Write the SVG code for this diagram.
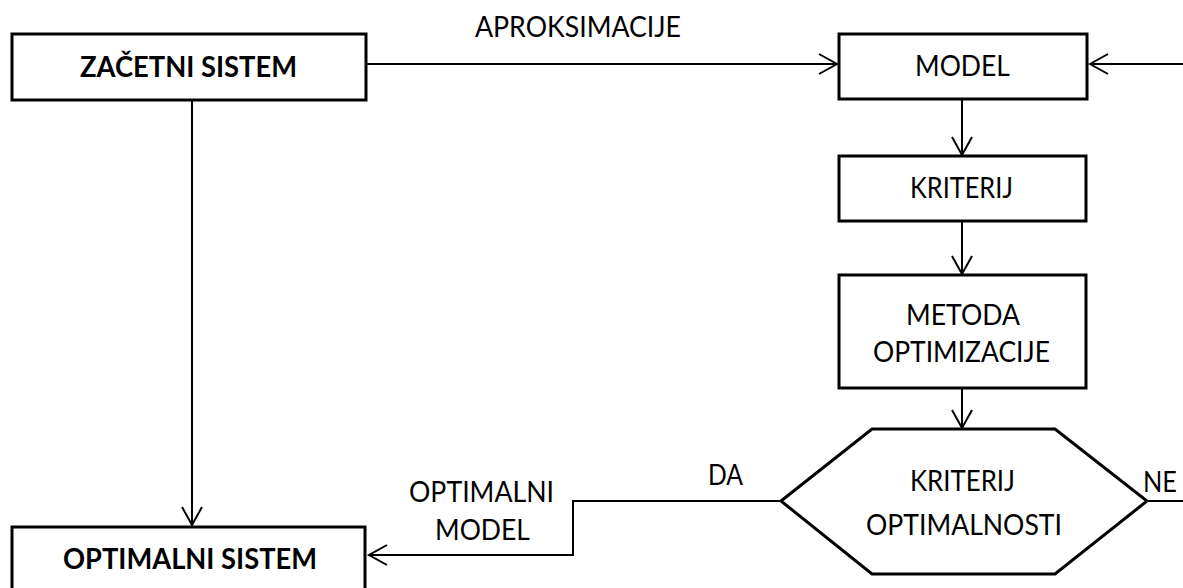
<svg xmlns="http://www.w3.org/2000/svg" width="1183" height="588" viewBox="0 0 1183 588">
  <style>
    .box { fill: #ffffff; stroke: #000000; stroke-width: 3; }
    .conn { fill: none; stroke: #000000; stroke-width: 2; }
    text { font-family: Lato, "Open Sans", "Liberation Sans", sans-serif; font-size: 28px; fill: #000000; }
    .bold { font-weight: bold; }
  </style>
  <defs>
    <marker id="arrow" markerUnits="userSpaceOnUse" markerWidth="24" markerHeight="24" viewBox="-20 -12 24 24" refX="0" refY="0" orient="auto">
      <path d="M -18 -10 L 0 0 L -18 10" fill="none" stroke="#000000" stroke-width="2"/>
    </marker>
  </defs>
  <rect width="1183" height="588" fill="#ffffff"/>

  <g id="connectors">
    <path class="conn" d="M366 64 H837" marker-end="url(#arrow)"/>
    <path class="conn" d="M1183 64 H1090" marker-end="url(#arrow)"/>
    <path class="conn" d="M962 99 V155" marker-end="url(#arrow)"/>
    <path class="conn" d="M962 221 V274" marker-end="url(#arrow)"/>
    <path class="conn" d="M962 388 V428" marker-end="url(#arrow)"/>
    <path class="conn" d="M192 100 V525" marker-end="url(#arrow)"/>
    <path class="conn" d="M781 501 H573 V555 H369" marker-end="url(#arrow)"/>
    <path class="conn" d="M1147 501 H1183"/>
    <text x="475" y="37" textLength="206" lengthAdjust="spacingAndGlyphs">APROKSIMACIJE</text>
    <text x="708" y="485" textLength="35" lengthAdjust="spacingAndGlyphs">DA</text>
    <text x="1143" y="492" textLength="34" lengthAdjust="spacingAndGlyphs">NE</text>
    <text x="409" y="502" textLength="145" lengthAdjust="spacingAndGlyphs">OPTIMALNI</text>
    <text x="435" y="540" textLength="95" lengthAdjust="spacingAndGlyphs">MODEL</text>
  </g>

  <g id="zacetni-sistem">
    <rect class="box" x="12" y="34" width="354" height="66"/>
    <text class="bold" x="80" y="77" textLength="217" lengthAdjust="spacingAndGlyphs">ZAČETNI SISTEM</text>
  </g>

  <g id="model">
    <rect class="box" x="839" y="34" width="248" height="65"/>
    <text x="915" y="76" textLength="95" lengthAdjust="spacingAndGlyphs">MODEL</text>
  </g>

  <g id="kriterij">
    <rect class="box" x="839" y="156" width="247" height="65"/>
    <text x="910" y="198" textLength="103" lengthAdjust="spacingAndGlyphs">KRITERIJ</text>
  </g>

  <g id="metoda-optimizacije">
    <rect class="box" x="839" y="275" width="247" height="113"/>
    <text x="906" y="325" textLength="114" lengthAdjust="spacingAndGlyphs">METODA</text>
    <text x="873" y="362" textLength="177" lengthAdjust="spacingAndGlyphs">OPTIMIZACIJE</text>
  </g>

  <g id="kriterij-optimalnosti">
    <polygon class="box" points="781,501 872,429 1055,429 1147,501 1055,574 872,574"/>
    <text x="910" y="491" textLength="105" lengthAdjust="spacingAndGlyphs">KRITERIJ</text>
    <text x="866" y="535" textLength="196" lengthAdjust="spacingAndGlyphs">OPTIMALNOSTI</text>
  </g>

  <g id="optimalni-sistem">
    <rect class="box" x="12" y="527" width="353" height="80"/>
    <text class="bold" x="63" y="569" textLength="254" lengthAdjust="spacingAndGlyphs">OPTIMALNI SISTEM</text>
  </g>
</svg>
